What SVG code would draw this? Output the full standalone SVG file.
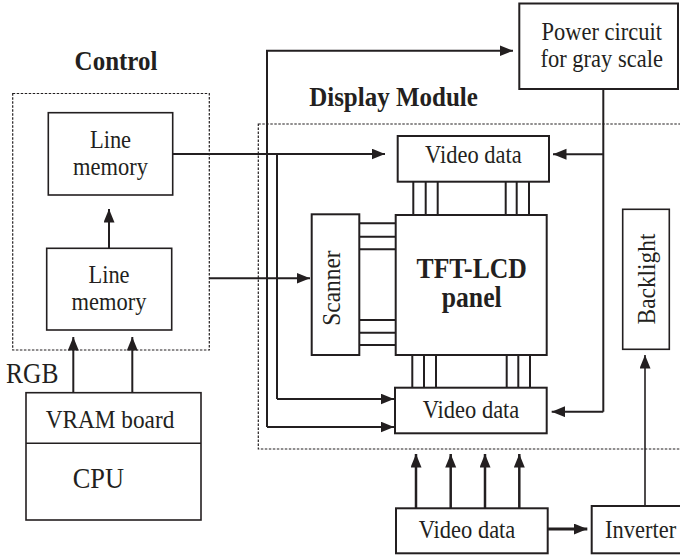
<svg xmlns="http://www.w3.org/2000/svg" width="680" height="555" viewBox="0 0 680 555">
<style>
.box{fill:#fff;stroke:#231f20;stroke-width:2}
.dot{fill:none;stroke:#231f20;stroke-width:1.2;stroke-dasharray:2.5 1.5}
.ln{fill:none;stroke:#231f20;stroke-width:2}
.arr{fill:none;stroke:#231f20;stroke-width:2;marker-end:url(#ah)}
.bus{fill:none;stroke:#231f20;stroke-width:2}
</style>
<defs>
<marker id="ah" markerUnits="userSpaceOnUse" markerWidth="15" markerHeight="12" refX="13.5" refY="5.5" orient="auto">
<path d="M0,0 L13.5,5.5 L0,11 z" fill="#231f20"/>
</marker>
</defs>
<rect width="680" height="555" fill="#fff"/>

<g id="control-frame">
<rect class="dot" x="12.7" y="93.5" width="196.6" height="256.5"/>
<text font-family="Liberation Serif" font-size="25" font-weight="bold" text-anchor="middle" fill="#231f20" transform="translate(116,70) scale(1,1.12)">Control</text>
</g>
<g id="display-frame">
<rect class="dot" x="258.3" y="124" width="430" height="325"/>
<text font-family="Liberation Serif" font-size="25" font-weight="bold" text-anchor="middle" fill="#231f20" transform="translate(393.5,106) scale(1,1.12)">Display Module</text>
</g>

<g id="connectors">
<path class="arr" d="M172.7,154 H385"/>
<path class="ln" d="M277,154 V399"/>
<path class="arr" d="M277,399 H394"/>
<path class="arr" d="M267,427 V50.7 H513"/>
<path class="arr" d="M267,427 H394"/>
<path class="arr" d="M109,248 V209"/>
<path class="arr" d="M209.3,278.3 H310"/>
<path class="arr" d="M73.3,392.7 V337"/>
<path class="arr" d="M132.3,392.7 V337"/>
<path class="ln" d="M603.3,89 V411.7"/>
<path class="arr" d="M603.3,154.3 H553"/>
<path class="arr" d="M603.3,411.7 H551.7"/>
<path class="arr" style="stroke-width:2.5" d="M416,508.3 V454"/>
<path class="arr" style="stroke-width:2.5" d="M450.7,508.3 V454"/>
<path class="arr" style="stroke-width:2.5" d="M485,508.3 V454"/>
<path class="arr" style="stroke-width:2.5" d="M519.3,508.3 V454"/>
<path class="arr" style="stroke-width:3" d="M547.7,529 H587.3"/>
<path class="arr" style="stroke-width:1.6" d="M645,506 V355"/>
<path class="bus" d="M413.3,181.7 V215 M425.7,181.7 V215 M437.7,181.7 V215 M505.7,181.7 V215 M516.7,181.7 V215 M529,181.7 V215"/>
<path class="bus" d="M412.3,355 V387.7 M424,355 V387.7 M436,355 V387.7 M506.7,355 V387.7 M518.3,355 V387.7 M530,355 V387.7"/>
<path class="bus" d="M359.3,223.3 H395.7 M359.3,236.7 H395.7 M359.3,249.3 H395.7 M359.3,320 H395.7 M359.3,332.7 H395.7 M359.3,345 H395.7"/>
</g>

<g id="power-circuit">
<rect class="box" x="519.3" y="3.5" width="158.7" height="85.5"/>
<text font-family="Liberation Serif" font-size="22.5" text-anchor="middle" fill="#231f20" transform="translate(601.7,40) scale(1,1.12)">Power circuit</text>
<text font-family="Liberation Serif" font-size="22.5" text-anchor="middle" fill="#231f20" transform="translate(601.7,67) scale(1,1.12)">for gray scale</text>
</g>

<g id="line-memory-top">
<rect class="box" style="stroke-width:1.6" x="48.3" y="112.7" width="124.4" height="82.3"/>
<text font-family="Liberation Serif" font-size="22.5" text-anchor="middle" fill="#231f20" transform="translate(110.5,148) scale(1,1.12)">Line</text>
<text font-family="Liberation Serif" font-size="22.5" text-anchor="middle" fill="#231f20" transform="translate(110.5,175) scale(1,1.12)">memory</text>
</g>

<g id="line-memory-bottom">
<rect class="box" style="stroke-width:1.6" x="46.7" y="248.3" width="125" height="81.7"/>
<text font-family="Liberation Serif" font-size="22.5" text-anchor="middle" fill="#231f20" transform="translate(109,283) scale(1,1.12)">Line</text>
<text font-family="Liberation Serif" font-size="22.5" text-anchor="middle" fill="#231f20" transform="translate(109,310) scale(1,1.12)">memory</text>
</g>

<g id="video-data-top">
<rect class="box" x="397.7" y="136" width="151.3" height="45.7"/>
<text font-family="Liberation Serif" font-size="22.5" text-anchor="middle" fill="#231f20" transform="translate(473.4,163) scale(1,1.12)">Video data</text>
</g>

<g id="scanner">
<rect class="box" x="311.7" y="214.3" width="47.6" height="140.7"/>
<text font-family="Liberation Serif" font-size="22.5" text-anchor="middle" fill="#231f20" transform="translate(340,288) rotate(-90) scale(1.04,1.12)">Scanner</text>
</g>

<g id="tft-lcd-panel">
<rect class="box" x="395.7" y="215" width="151" height="140"/>
<text font-family="Liberation Serif" font-size="25.7" font-weight="bold" text-anchor="middle" fill="#231f20" transform="translate(471.7,278) scale(1,1.12)">TFT-LCD</text>
<text font-family="Liberation Serif" font-size="25.7" font-weight="bold" text-anchor="middle" fill="#231f20" transform="translate(471.7,307) scale(1,1.12)">panel</text>
</g>

<g id="backlight">
<rect class="box" style="stroke-width:1.6" x="622.7" y="209.3" width="46.6" height="140"/>
<text font-family="Liberation Serif" font-size="22.5" text-anchor="middle" fill="#231f20" transform="translate(655,279) rotate(-90) scale(1.04,1.12)">Backlight</text>
</g>

<g id="video-data-mid">
<rect class="box" x="395" y="387.7" width="151.7" height="45.6"/>
<text font-family="Liberation Serif" font-size="22.5" text-anchor="middle" fill="#231f20" transform="translate(471,417.7) scale(1,1.12)">Video data</text>
</g>

<g id="rgb-label">
<text font-family="Liberation Serif" font-size="25.5" text-anchor="start" fill="#231f20" transform="translate(6,383) scale(1,1.12)">RGB</text>
</g>

<g id="vram-cpu">
<rect class="box" style="stroke-width:1.6" x="26" y="392.7" width="175" height="127.3"/>
<path class="ln" style="stroke-width:1.6" d="M26,443.3 H201"/>
<text font-family="Liberation Serif" font-size="23.3" text-anchor="middle" fill="#231f20" transform="translate(110,427.7) scale(1,1.12)">VRAM board</text>
<text font-family="Liberation Serif" font-size="26.4" text-anchor="middle" fill="#231f20" transform="translate(98.3,488) scale(1,1.12)">CPU</text>
</g>

<g id="video-data-bottom">
<rect class="box" x="396" y="508.3" width="151.7" height="45"/>
<text font-family="Liberation Serif" font-size="22.5" text-anchor="middle" fill="#231f20" transform="translate(467,538) scale(1,1.12)">Video data</text>
</g>

<g id="inverter">
<rect class="box" x="591.7" y="506" width="95" height="47.3"/>
<text font-family="Liberation Serif" font-size="22.5" text-anchor="start" fill="#231f20" transform="translate(605,538) scale(1,1.12)">Inverter</text>
</g>
</svg>
